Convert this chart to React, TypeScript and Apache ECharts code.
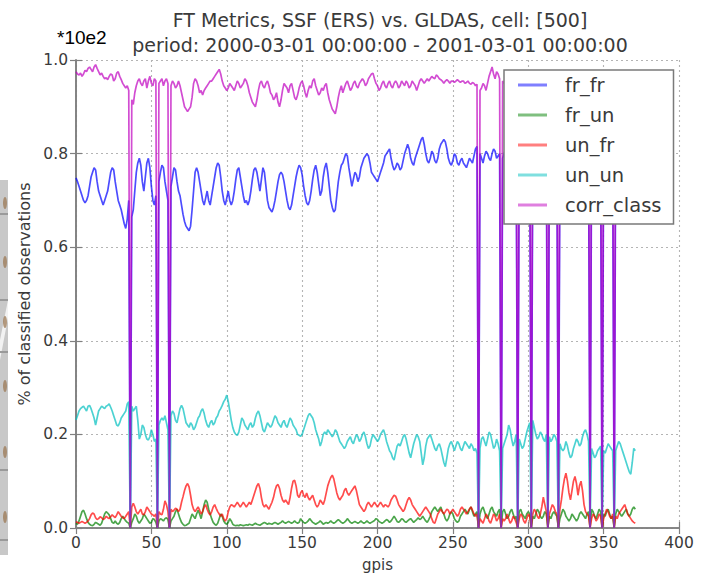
import React, { useEffect, useRef } from "react";
import * as echarts from "echarts";

// grid point index along the x axis (gpis 0..371)
const gpis: number[] = Array.from({ length: 372 }, (_, i) => i);

const xTicks = [0, 50, 100, 150, 200, 250, 300, 350, 400];
const yTicks = [0, 0.2, 0.4, 0.6, 0.8, 1.0];

const seriesNames = ["fr_fr", "fr_un", "un_fr", "un_un", "corr_class"];
const seriesColors = ["#0000ff", "#008000", "#ff0000", "#00bfbf", "#bf00bf"];

const frFr = [
  .748,.74,.73,.72,.71,.7,.695,.7,.71,.73,
  .75,.76,.77,.765,.74,.72,.71,.7,.69,.7,
  .71,.72,.74,.76,.77,.765,.74,.72,.7,.69,
  .68,.665,.65,.64,.66,.7,0,.665,.68,.72,
  .76,.78,.79,.775,.74,.72,.75,.78,.79,.77,
  .73,.7,.69,.71,0,.74,.76,.775,.77,.74,
  .72,.7,0,.73,.75,.77,.765,.74,.72,.71,
  .69,.67,.655,.645,.64,.635,.645,.68,.72,.76,
  .77,.76,.74,.72,.7,.69,.705,.72,.7,.69,
  .71,.73,.75,.77,.78,.775,.75,.72,.7,.69,
  .705,.72,.7,.69,.7,.72,.745,.765,.77,.75,
  .73,.71,.695,.7,.69,.7,.72,.745,.765,.77,
  .76,.74,.72,.745,.77,.76,.73,.7,.685,.68,
  .675,.685,.7,.72,.74,.755,.76,.755,.74,.72,
  .7,.685,.68,.69,.71,.73,.75,.765,.775,.77,
  .755,.73,.71,.695,.69,.7,.72,.745,.765,.775,
  .76,.735,.71,.72,.75,.77,.78,.76,.73,.7,
  .685,.675,.68,.71,.74,.76,.775,.78,.79,.8,
  .795,.77,.75,.73,.745,.76,.755,.74,.75,.77,
  .78,.79,.795,.8,.795,.78,.76,.755,.75,.745,
  .74,.75,.76,.77,.78,.795,.8,.805,.81,.79,
  .775,.765,.77,.78,.775,.765,.77,.785,.8,.81,
  .82,.81,.79,.78,.775,.79,.8,.81,.82,.83,
  .835,.82,.8,.785,.78,.79,.805,.8,.785,.78,
  .79,.81,.82,.825,.83,.825,.81,.79,.78,.775,
  .785,.8,.795,.78,.775,.785,.79,.78,.775,.77,
  .78,.79,.785,.78,.795,.81,.815,0,.8,.79,
  .78,.795,.805,.8,.79,.785,.8,.81,.805,.79,
  .795,.8,0,.79,.8,.81,.8,.79,.785,.795,
  .805,.81,.8,0,.79,.78,.79,.8,.81,.805,
  .795,.79,0,.78,.79,.8,.81,.815,.805,.79,
  .785,.795,.8,0,.79,.8,.81,.805,.795,.79,
  0,.78,.79,.8,.81,.805,.79,.78,.785,.795,
  .805,.81,.8,.79,.785,.795,.8,.81,.805,.795,
  .79,0,.785,.795,.8,.81,.8,.79,.785,0,
  .79,.8,.805,.795,.79,.785,.795,0,.8,.805,
  .795,.79,.8,.81,.805,.795,.79,.785,.795,.8,
  .805,.8,
];

const frUn = [
  .01,.008,.015,.025,.035,.038,.03,.02,.012,.008,
  .006,.005,.008,.012,.01,.008,.006,.01,.02,.03,
  .035,.032,.028,.02,.012,.01,.015,.01,.008,.012,
  .02,.025,.02,.015,.012,.01,0,.012,.02,.03,
  .025,.015,.01,.015,.02,.03,.025,.02,.015,.01,
  .012,.02,.018,.012,0,.015,.02,.018,.015,.02,
  .022,.018,0,.015,.02,.025,.035,.04,.03,.02,
  .012,.008,.005,.006,.008,.01,.02,.03,.025,.02,
  .03,.038,.03,.02,.035,.05,.06,.055,.04,.03,
  .02,.012,.008,.006,.01,.02,.03,.025,.015,.01,
  .008,.012,.02,.015,.008,.006,.005,.006,.005,.007,
  .006,.005,.006,.007,.006,.008,.007,.006,.008,.01,
  .008,.007,.006,.008,.01,.012,.01,.008,.01,.009,
  .008,.01,.012,.01,.008,.01,.012,.015,.012,.01,
  .012,.014,.012,.01,.012,.015,.012,.01,.012,.02,
  .015,.012,.01,.012,.015,.02,.016,.012,.01,.008,
  .01,.012,.015,.012,.008,.01,.012,.01,.012,.015,
  .012,.01,.012,.015,.018,.015,.012,.01,.012,.015,
  .02,.016,.012,.01,.012,.014,.012,.01,.012,.015,
  .012,.01,.012,.015,.012,.01,.012,.014,.016,.02,
  .018,.014,.012,.01,.012,.015,.018,.016,.012,.015,
  .02,.025,.02,.014,.012,.015,.02,.018,.014,.012,
  .015,.018,.02,.016,.012,.015,.018,.022,.018,.02,
  .025,.02,.015,.012,.018,.025,.035,.04,.045,.04,
  .035,.04,.045,.035,.03,.02,.015,.02,.03,.035,
  .03,.02,.015,.012,.015,.025,.03,.035,.04,.035,
  .03,.04,.045,.035,.025,.03,.035,0,.03,.04,
  .045,.035,.025,.02,.03,.04,.045,.035,.03,.025,
  .035,.04,0,.035,.04,.03,.02,.025,.035,.04,
  .03,.02,.025,0,.035,.04,.03,.025,.02,.03,
  .035,.03,0,.025,.02,.03,.04,.035,.025,.02,
  .025,.035,.03,0,.025,.02,.03,.035,.03,.025,
  0,.02,.03,.04,.035,.025,.02,.015,.02,.03,
  .025,.02,.015,.02,.03,.035,.03,.025,.02,.03,
  .035,0,.04,.035,.025,.02,.03,.04,.035,0,
  .03,.025,.035,.04,.03,.02,.025,0,.03,.04,
  .035,.03,.025,.03,.035,.04,.03,.025,.03,.04,
  .045,.04,
];

const unFr = [
  .013,.012,.01,.012,.014,.012,.01,.012,.015,.02,
  .028,.032,.03,.022,.018,.02,.024,.022,.018,.02,
  .025,.022,.02,.024,.028,.025,.022,.028,.035,.03,
  .025,.022,.02,.025,.03,.035,0,.045,.053,.045,
  .035,.03,.035,.04,.03,.028,.035,.045,.04,.035,
  .03,.028,.025,.03,0,.035,.03,.028,.04,.058,
  .05,.035,0,.04,.035,.038,.042,.04,.035,.04,
  .055,.067,.08,.09,.095,.088,.07,.05,.04,.035,
  .04,.045,.038,.03,.035,.045,.05,.04,.032,.028,
  .035,.045,.05,.042,.035,.03,.025,.03,.02,.015,
  .02,.035,.045,.05,.048,.045,.05,.055,.05,.045,
  .05,.055,.05,.045,.05,.055,.05,.06,.07,.08,
  .09,.095,.085,.065,.05,.045,.05,.045,.04,.048,
  .055,.065,.08,.09,.093,.085,.07,.06,.055,.06,
  .055,.05,.065,.085,.1,.102,.09,.07,.065,.075,
  .08,.07,.065,.075,.065,.06,.065,.07,.06,.05,
  .045,.05,.06,.055,.05,.06,.075,.09,.1,.108,
  .113,.105,.09,.075,.065,.06,.065,.07,.08,.085,
  .075,.07,.075,.08,.085,.09,.08,.065,.05,.045,
  .04,.035,.04,.05,.055,.05,.045,.05,.055,.05,
  .045,.05,.055,.05,.045,.05,.048,.045,.05,.06,
  .065,.07,.068,.06,.05,.045,.04,.035,.04,.05,
  .06,.065,.06,.05,.045,.04,.035,.03,.025,.03,
  .035,.04,.045,.04,.035,.03,.02,.012,.01,.02,
  .03,.035,.04,.035,.03,.035,.04,.038,.03,.035,
  .04,.035,.03,.025,.03,.04,.045,.04,.035,.03,
  .035,.04,.045,.038,.03,.025,.03,0,.02,.015,
  .01,.02,.03,.025,.015,.01,.02,.03,.025,.015,
  .02,.03,0,.02,.015,.02,.03,.02,.01,.015,
  .025,.02,.012,0,.02,.03,.025,.015,.01,.02,
  .03,.025,0,.03,.04,.035,.025,.02,.03,.045,
  .066,.05,.035,0,.03,.04,.05,.045,.035,.03,
  0,.04,.06,.085,.105,.117,.1,.075,.06,.08,
  .1,.11,.095,.07,.09,.1,.08,.05,.035,.03,
  .025,0,.02,.03,.025,.015,.02,.03,.025,0,
  .02,.03,.04,.035,.025,.02,.03,0,.025,.02,
  .03,.035,.04,.045,.05,.04,.03,.025,.02,.015,
  .012,.01,
];

const unUn = [
  .231,.24,.25,.255,.258,.26,.255,.25,.26,.262,
  .255,.245,.235,.22,.235,.25,.255,.26,.258,.255,
  .26,.262,.265,.258,.25,.24,.23,.22,.218,.225,
  .235,.24,.245,.25,.265,.27,0,.26,.25,.255,
  .26,.23,.19,.2,.22,.215,.2,.19,.188,.195,
  .21,.2,.185,.19,0,.22,.23,.235,.23,.24,
  .225,.21,0,.24,.25,.245,.23,.225,.24,.255,
  .262,.255,.24,.225,.22,.215,.225,.22,.21,.215,
  .225,.235,.24,.25,.255,.245,.23,.22,.215,.225,
  .23,.22,.225,.235,.24,.25,.255,.262,.27,.275,
  .284,.27,.25,.23,.215,.205,.2,.198,.205,.22,
  .235,.23,.22,.215,.21,.22,.225,.215,.22,.235,
  .245,.25,.24,.225,.21,.205,.215,.225,.22,.215,
  .22,.23,.24,.235,.225,.22,.215,.225,.23,.22,
  .215,.225,.235,.23,.22,.215,.21,.2,.198,.196,
  .2,.21,.22,.23,.24,.245,.24,.235,.225,.21,
  .2,.19,.175,.185,.2,.205,.2,.21,.205,.2,
  .195,.2,.21,.205,.195,.185,.18,.175,.17,.175,
  .185,.19,.195,.185,.18,.19,.2,.195,.185,.19,
  .2,.205,.195,.18,.17,.175,.19,.2,.195,.19,
  .185,.19,.2,.205,.21,.2,.185,.175,.165,.16,
  .15,.145,.16,.175,.18,.175,.185,.195,.2,.19,
  .175,.16,.15,.165,.18,.19,.2,.195,.185,.16,
  .135,.15,.175,.19,.195,.2,.19,.18,.17,.165,
  .175,.18,.17,.155,.14,.131,.15,.17,.18,.185,
  .175,.165,.175,.185,.18,.17,.165,.175,.185,.18,
  .175,.17,.18,.175,.165,.17,.16,0,.17,.19,
  .195,.185,.175,.19,.205,.2,.185,.17,.175,.19,
  .18,.165,0,.17,.18,.19,.2,.22,.21,.19,
  .175,.185,.2,0,.19,.18,.17,.175,.19,.205,
  .215,.225,0,.23,.215,.2,.19,.195,.205,.2,
  .19,.185,.2,0,.195,.185,.19,.2,.195,.185,
  0,.18,.17,.165,.17,.185,.175,.16,.15,.155,
  .17,.18,.19,.185,.175,.18,.195,.205,.21,.2,
  .185,0,.17,.16,.15,.155,.165,.17,.175,0,
  .165,.16,.17,.18,.175,.17,.165,0,.165,.175,
  .185,.18,.17,.16,.15,.14,.13,.12,.115,.14,
  .17,.165,
];

const corrClass = [
  .975,.97,.968,.972,.965,.97,.978,.975,.982,.985,
  .98,.975,.985,.99,.982,.975,.968,.972,.965,.96,
  .962,.958,.965,.97,.968,.955,.96,.972,.975,.965,
  .958,.95,.945,.94,.945,.935,0,.915,.905,.93,
  .945,.955,.96,.95,.945,.955,.96,.94,.955,.965,
  .95,.945,.96,.955,0,.95,.955,.96,.945,.955,
  .96,.95,0,.945,.955,.95,.94,.945,.955,.945,
  .93,.915,.9,.895,.89,.895,.9,.92,.95,.96,
  .955,.945,.93,.935,.925,.935,.94,.945,.95,.955,
  .955,.96,.965,.97,.975,.98,.97,.955,.945,.94,
  .935,.94,.95,.945,.94,.935,.945,.955,.95,.94,
  .945,.95,.96,.955,.945,.93,.92,.91,.905,.9,
  .915,.935,.95,.955,.945,.94,.95,.955,.945,.93,
  .925,.915,.92,.93,.91,.9,.915,.935,.95,.945,
  .94,.93,.945,.95,.935,.92,.915,.925,.94,.95,
  .955,.945,.93,.92,.935,.945,.94,.955,.96,.945,
  .935,.925,.93,.94,.935,.945,.95,.93,.915,.905,
  .895,.89,.885,.9,.92,.935,.945,.93,.94,.95,
  .955,.945,.935,.94,.95,.955,.945,.94,.95,.955,
  .96,.955,.945,.95,.96,.965,.97,.972,.96,.95,
  .945,.935,.94,.95,.955,.945,.94,.95,.955,.945,
  .94,.95,.955,.95,.94,.945,.955,.95,.945,.955,
  .95,.94,.945,.955,.95,.945,.935,.945,.955,.96,
  .955,.95,.955,.96,.955,.96,.965,.962,.96,.968,
  .965,.96,.958,.955,.95,.955,.958,.955,.95,.955,
  .955,.952,.955,.958,.955,.952,.955,.955,.95,.952,
  .955,.95,.948,.952,.95,.945,.948,0,.935,.94,
  .95,.945,.935,.95,.965,.975,.985,.97,.96,.975,
  .97,.96,0,.955,.95,.96,.955,.95,.945,.955,
  .96,.955,.95,0,.945,.955,.96,.955,.95,.955,
  .95,.945,0,.95,.955,.96,.95,.945,.95,.955,
  .96,.955,.95,0,.945,.95,.955,.96,.955,.95,
  0,.945,.94,.935,.94,.95,.955,.945,.94,.95,
  .955,.96,.95,.945,.94,.95,.955,.95,.945,.95,
  .955,0,.95,.945,.955,.96,.955,.95,.945,0,
  .95,.955,.96,.955,.95,.945,.95,0,.955,.96,
  .955,.95,.945,.95,.955,.96,.955,.95,.945,.95,
  .955,.95,
];

const seriesValues = [frFr, frUn, unFr, unUn, corrClass];

const FONT = "DejaVu Sans";
const TEXT = "#3a3a3a";
const FRAME = "#808080";

export default function App() {
  const ref = useRef<HTMLDivElement>(null);

  useEffect(() => {
    if (!ref.current) return;
    const chart = echarts.init(ref.current, undefined, { renderer: "svg" });

    const frameAxis = {
      min: 0,
      axisLine: { show: true, lineStyle: { color: FRAME, width: 1.6 } },
      axisTick: { show: true, inside: true, length: 6, lineStyle: { color: FRAME, width: 1.2 } },
      axisLabel: { show: false },
      splitLine: { show: false },
    };

    // scanned paper edge along the left border
    const stripBlobs = [203, 262, 322, 386, 452, 517].map((cy) => ({
      type: "ellipse",
      shape: { cx: 5, cy, rx: 2, ry: 6 },
      style: { fill: "#9c7a55", opacity: 0.75 },
    }));
    const stripLines = [214, 300, 352, 470, 540].map((y) => ({
      type: "line",
      shape: { x1: 0, y1: y, x2: 8, y2: y },
      style: { stroke: "#9a9a9a", lineWidth: 2 },
    }));

    chart.setOption({
      animation: false,
      backgroundColor: "#fff",
      textStyle: { fontFamily: FONT },
      grid: {
        left: 76,
        right: 23,
        top: 60,
        bottom: 48,
        containLabel: false,
        outerBoundsMode: "none",
      },
      xAxis: [
        {
          type: "value",
          min: 0,
          max: 400,
          interval: 50,
          position: "bottom",
          name: "gpis",
          nameLocation: "middle",
          nameGap: 29,
          nameTextStyle: { fontFamily: FONT, fontSize: 15, color: TEXT },
          axisLine: { show: true, onZero: false, lineStyle: { color: FRAME, width: 1.6 } },
          axisTick: { show: true, inside: true, length: 6, lineStyle: { color: FRAME, width: 1.2 } },
          axisLabel: {
            show: true,
            margin: 7,
            fontFamily: FONT,
            fontSize: 15.5,
            color: TEXT,
            customValues: xTicks,
            showMinLabel: true,
            showMaxLabel: true,
          },
          splitLine: {
            show: true,
            lineStyle: { color: "#b4b4b4", width: 1.1, type: [2, 3] },
          },
        },
        {
          ...frameAxis,
          type: "value",
          max: 400,
          interval: 50,
          position: "top",
        },
      ],
      yAxis: [
        {
          type: "value",
          min: 0,
          max: 1,
          interval: 0.2,
          position: "left",
          name: "% of classified observations",
          nameLocation: "middle",
          nameGap: 42,
          nameTextStyle: { fontFamily: FONT, fontSize: 16, color: TEXT },
          axisLine: { show: true, onZero: false, lineStyle: { color: FRAME, width: 1.6 } },
          axisTick: { show: true, inside: true, length: 6, lineStyle: { color: FRAME, width: 1.2 } },
          axisLabel: {
            show: true,
            margin: 8,
            fontFamily: FONT,
            fontSize: 15.5,
            color: TEXT,
            customValues: yTicks,
            formatter: (v: number) => v.toFixed(1),
          },
          splitLine: {
            show: true,
            lineStyle: { color: "#b4b4b4", width: 1.1, type: [2, 3] },
          },
        },
        {
          ...frameAxis,
          type: "value",
          max: 1,
          interval: 0.2,
          position: "right",
        },
      ],
      legend: {
        orient: "vertical",
        left: 504,
        top: 70,
        padding: [5, 12, 9, 14],
        itemWidth: 29,
        itemHeight: 3,
        itemGap: 10,
        icon: "rect",
        backgroundColor: "#fff",
        borderColor: "#7a7a7a",
        borderWidth: 1.5,
        borderRadius: 0,
        itemStyle: { opacity: 0.5 },
        textStyle: { fontFamily: FONT, fontSize: 19.5, color: TEXT, padding: [0, 0, 0, 13] },
        data: seriesNames,
        selectedMode: false,
      },
      series: seriesNames.map((name, k) => ({
        name,
        type: "line",
        xAxisIndex: 0,
        yAxisIndex: 0,
        color: seriesColors[k],
        showSymbol: false,
        symbol: "none",
        clip: true,
        z: 2 + k * 0.01,
        lineStyle: { width: 1.7, opacity: 0.7, color: seriesColors[k] },
        itemStyle: { color: seriesColors[k] },
        emphasis: { disabled: true },
        data: gpis.map((g, i) => [g, seriesValues[k][i]]),
      })),
      graphic: [
        {
          type: "text",
          x: 380,
          y: 20,
          style: {
            text: "FT Metrics, SSF (ERS) vs. GLDAS, cell: [500]",
            font: `19px "${FONT}"`,
            fill: TEXT,
            textAlign: "center",
            textVerticalAlign: "middle",
          },
        },
        {
          type: "text",
          x: 380,
          y: 45,
          style: {
            text: "period: 2000-03-01 00:00:00 - 2001-03-01 00:00:00",
            font: `19px "${FONT}"`,
            fill: TEXT,
            textAlign: "center",
            textVerticalAlign: "middle",
          },
        },
        {
          type: "text",
          x: 57,
          y: 37,
          style: {
            text: "*10e2",
            font: '19px "Liberation Sans"',
            fill: "#000",
            textAlign: "left",
            textVerticalAlign: "middle",
          },
        },
        {
          type: "rect",
          shape: { x: 0, y: 180, width: 8, height: 375 },
          style: { fill: "#c8c8c8" },
        },
        {
          type: "polygon",
          shape: { points: [[0, 360], [0, 340], [8, 300], [8, 318]] },
          style: { fill: "#f2f2f2" },
        },
        ...stripLines,
        ...stripBlobs,
      ],
    });

    return () => chart.dispose();
  }, []);

  return (
    <div
      ref={ref}
      style={{ position: "absolute", left: 0, top: 0, width: 702, height: 576 }}
    />
  );
}
